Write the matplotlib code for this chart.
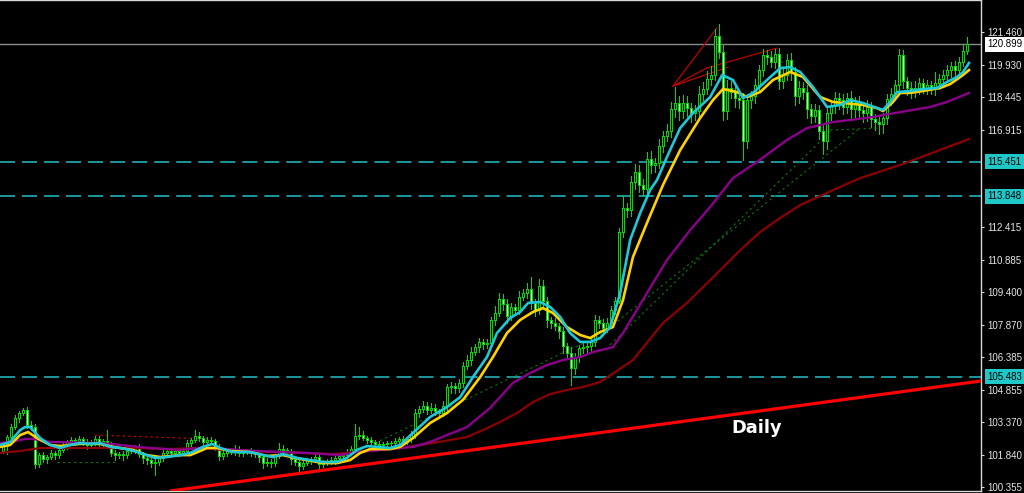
import numpy as np
import matplotlib
matplotlib.use("Agg")
import matplotlib.pyplot as plt

# ---------------- data ----------------
first_open = 102.05
close = [
    102.25, 102.70, 103.15, 103.55, 103.80, 103.95, 103.25, 103.15, 101.45, 101.85,
    101.65, 101.75, 101.95, 101.85, 102.10, 102.30, 102.45, 102.55, 102.50, 102.60,
    102.45, 102.30, 102.45, 102.60, 102.35, 102.50, 102.35, 101.95, 101.85, 101.90,
    101.85, 102.05, 102.10, 102.20, 101.90, 101.70, 101.60, 101.50, 101.55, 101.70,
    101.95, 102.05, 101.95, 102.05, 101.95, 102.05, 102.40, 102.55, 102.75, 102.65,
    102.45, 102.55, 102.50, 102.20, 101.80, 101.95, 102.05, 102.00, 102.15, 101.95,
    102.00, 102.05, 101.95, 101.90, 101.75, 101.50, 101.55, 101.50, 101.80, 102.15,
    102.10, 102.00, 101.65, 101.55, 101.35, 101.50, 101.60, 101.65, 101.75, 101.45,
    101.50, 101.55, 101.60, 101.70, 101.80, 101.85, 102.00, 102.15, 102.75, 102.80,
    102.65, 102.55, 102.45, 102.35, 102.30, 102.35, 102.40, 102.40, 102.50, 102.60,
    102.45, 102.60, 102.80, 103.80, 104.00, 104.15, 103.95, 104.05, 103.90, 103.80,
    104.15, 105.00, 105.05, 104.95, 105.20, 106.00, 106.25, 106.65, 106.85, 107.10,
    107.00, 107.05, 108.10, 108.45, 109.10, 108.85, 108.30, 108.70, 108.60, 109.20,
    109.35, 109.55, 108.90, 108.60, 109.70, 109.00, 108.10, 108.00, 107.85, 107.60,
    106.90, 106.60, 105.90, 106.40, 106.80, 106.85, 106.90, 107.10, 108.10, 108.00,
    107.75, 108.00, 108.60, 109.00, 112.20, 113.30, 113.20, 114.50, 115.00, 114.40,
    114.20, 115.60, 115.30, 115.40, 116.20, 116.65, 116.90, 117.90, 118.20, 117.80,
    118.20, 117.95, 117.70, 117.80, 118.60, 118.85, 119.30, 119.50, 121.30, 120.55,
    117.80, 118.90, 118.70, 118.40, 118.30, 116.40, 118.30, 118.50, 119.00, 119.70,
    120.40, 120.30, 120.10, 120.45, 119.20, 119.50, 120.20, 119.60, 118.50, 118.90,
    118.70, 117.90, 117.60, 117.85, 116.90, 116.40, 117.70, 118.05, 118.40, 118.30,
    118.00, 118.40, 117.90, 118.20, 117.85, 117.70, 118.00, 117.45, 117.30, 117.20,
    117.50, 118.35, 118.60, 119.00, 120.40, 119.20, 118.90, 118.70, 118.90, 119.10,
    118.90, 119.00, 118.85, 119.10, 119.30, 119.50, 119.70, 119.90, 119.70, 120.10,
    120.60, 120.90,
]
upper_wick = [
    0.15, 0.10, 0.12, 0.15, 0.10, 0.10, 0.15, 0.20, 0.15, 0.10,
    0.15, 0.10, 0.12, 0.10, 0.15, 0.10, 0.12, 0.15, 0.10, 0.12,
    0.10, 0.15, 0.10, 0.12, 0.15, 0.10, 0.50, 0.10, 0.12, 0.10,
    0.15, 0.10, 0.12, 0.10, 0.15, 0.10, 0.12, 0.10, 0.15, 0.10,
    0.12, 0.10, 0.15, 0.10, 0.12, 0.10, 0.15, 0.10, 0.25, 0.15,
    0.10, 0.15, 0.12, 0.10, 0.15, 0.10, 0.12, 0.10, 0.15, 0.10,
    0.12, 0.10, 0.15, 0.10, 0.12, 0.10, 0.15, 0.10, 0.12, 0.25,
    0.15, 0.10, 0.12, 0.10, 0.15, 0.10, 0.12, 0.10, 0.15, 0.10,
    0.12, 0.10, 0.15, 0.10, 0.12, 0.10, 0.15, 0.10, 0.55, 0.35,
    0.15, 0.10, 0.12, 0.10, 0.15, 0.10, 0.12, 0.10, 0.15, 0.10,
    0.12, 0.10, 0.15, 0.20, 0.15, 0.20, 0.15, 0.20, 0.15, 0.10,
    0.20, 0.15, 0.20, 0.15, 0.20, 0.15, 0.25, 0.20, 0.15, 0.20,
    0.15, 0.20, 0.15, 0.30, 0.25, 0.20, 0.25, 0.20, 0.15, 0.25,
    0.20, 0.30, 0.55, 0.20, 0.30, 0.25, 0.20, 0.15, 0.20, 0.15,
    0.20, 0.15, 0.25, 0.20, 0.15, 0.20, 0.15, 0.20, 0.25, 0.20,
    0.15, 0.20, 0.15, 0.20, 0.20, 0.60, 0.25, 0.30, 0.35, 0.30,
    0.25, 0.30, 0.35, 0.25, 0.30, 0.25, 0.30, 0.35, 0.73, 0.30,
    0.35, 0.30, 0.25, 0.30, 0.35, 0.30, 0.35, 0.40, 0.30, 0.55,
    0.30, 0.35, 0.30, 0.25, 0.30, 0.35, 0.30, 0.25, 0.30, 0.25,
    0.30, 0.25, 0.30, 0.25, 0.30, 0.35, 0.25, 0.30, 0.25, 0.30,
    0.25, 0.30, 0.25, 0.30, 0.25, 0.30, 0.35, 0.25, 0.30, 0.25,
    0.30, 0.25, 0.35, 0.25, 0.30, 0.25, 0.30, 0.25, 0.20, 0.25,
    0.20, 0.25, 0.30, 0.25, 0.30, 0.25, 0.20, 0.25, 0.30, 0.25,
    0.20, 0.25, 0.20, 0.50, 0.25, 0.20, 0.25, 0.20, 0.25, 0.20,
    0.25, 0.34,
]
lower_wick = [
    0.10, 0.35, 0.12, 0.10, 0.15, 0.10, 0.12, 0.15, 0.20, 0.15,
    0.12, 0.15, 0.10, 0.20, 0.12, 0.10, 0.15, 0.12, 0.10, 0.15,
    0.12, 0.15, 0.10, 0.12, 0.15, 0.10, 0.15, 0.12, 0.25, 0.15,
    0.25, 0.12, 0.10, 0.15, 0.12, 0.20, 0.15, 0.20, 0.55, 0.15,
    0.12, 0.15, 0.10, 0.12, 0.15, 0.10, 0.15, 0.12, 0.10, 0.15,
    0.12, 0.10, 0.15, 0.12, 0.20, 0.15, 0.12, 0.10, 0.15, 0.12,
    0.15, 0.10, 0.12, 0.15, 0.20, 0.25, 0.15, 0.20, 0.15, 0.10,
    0.12, 0.15, 0.20, 0.15, 0.25, 0.15, 0.12, 0.15, 0.10, 0.20,
    0.15, 0.12, 0.10, 0.15, 0.12, 0.10, 0.15, 0.12, 0.10, 0.15,
    0.12, 0.15, 0.10, 0.12, 0.15, 0.10, 0.12, 0.15, 0.10, 0.12,
    0.15, 0.10, 0.12, 0.15, 0.20, 0.15, 0.20, 0.15, 0.20, 0.25,
    0.15, 0.20, 0.25, 0.20, 0.15, 0.20, 0.15, 0.20, 0.15, 0.20,
    0.25, 0.20, 0.15, 0.20, 0.15, 0.25, 0.30, 0.20, 0.25, 0.20,
    0.15, 0.20, 0.25, 0.30, 0.20, 0.25, 0.30, 0.25, 0.20, 0.30,
    0.30, 0.25, 0.80, 0.30, 0.25, 0.20, 0.30, 0.25, 0.20, 0.25,
    0.30, 0.20, 0.25, 0.20, 0.10, 0.25, 0.30, 0.25, 0.30, 0.35,
    0.30, 0.25, 0.35, 0.30, 0.25, 0.30, 0.25, 0.30, 0.35, 0.40,
    0.30, 0.35, 0.40, 0.30, 0.25, 0.30, 0.25, 0.30, 0.25, 0.30,
    0.40, 0.35, 0.30, 0.40, 0.35, 0.85, 0.30, 0.35, 0.30, 0.25,
    0.25, 0.30, 0.25, 0.30, 0.35, 0.30, 0.25, 0.35, 0.40, 0.30,
    0.35, 0.40, 0.35, 0.30, 0.40, 0.60, 0.35, 0.30, 0.35, 0.40,
    0.35, 0.30, 0.40, 0.35, 0.30, 0.40, 0.35, 0.40, 0.35, 0.45,
    0.40, 0.30, 0.25, 0.30, 0.25, 0.30, 0.35, 0.30, 0.25, 0.30,
    0.25, 0.30, 0.25, 0.30, 0.25, 0.30, 0.25, 0.30, 0.25, 0.30,
    0.20, 0.15,
]

# moving averages (bar index, price)
fast_ma_idx = [-0.8, 1.7, 4.2, 5.4, 6.7, 9.2, 11.7, 14.2, 16.7, 19.2, 21.7, 24.2, 26.7, 29.2,
               31.7, 34.2, 37.9, 40.9, 44.2, 46.7, 49.9, 52.2, 54.2, 57.4, 61.7, 64.9, 67.4,
               69.9, 73.4, 76.7, 79.9, 83.4, 85.9, 88.4, 90.9, 93.4, 96.7, 99.2, 102.4, 106.7,
               110.9, 114.2, 117.4, 120.9, 123.4, 126.7, 129.2, 131.2, 134.2, 136.7, 139.2,
               141.7, 144.2, 146.7, 149.2, 151.7, 154.2, 156.7, 159.2, 161.7, 163.4, 165.9,
               169.2, 172.4, 176.7, 179.7, 182.4, 184.9, 187.4, 190.9, 194.2, 196.7, 199.2,
               202.4, 205.9, 209.2, 211.7, 214.9, 218.4, 219.9, 221.7, 223.4, 226.7, 229.9,
               233.4, 235.9, 238.4, 239.9, 241.4]
fast_ma_val = [102.32, 102.46, 103.01, 103.15, 103.15, 102.64, 102.32, 102.18, 102.32, 102.41,
               102.37, 102.41, 102.23, 102.18, 102.09, 101.95, 101.72, 101.76, 101.85, 101.95,
               102.23, 102.37, 102.18, 101.99, 101.99, 101.85, 101.76, 101.90, 101.72, 101.62,
               101.53, 101.53, 101.72, 102.09, 102.27, 102.23, 102.18, 102.32, 102.88, 103.62,
               104.08, 104.54, 105.47, 106.40, 107.51, 108.21, 108.49, 108.91, 108.95, 108.72,
               108.26, 107.51, 107.10, 107.10, 107.28, 107.79, 109.37, 111.83, 113.08, 114.15,
               114.61, 115.68, 117.02, 117.72, 118.46, 119.48, 119.25, 118.41, 118.65, 119.25,
               119.80, 119.85, 119.62, 118.92, 118.00, 118.09, 118.32, 118.18, 117.95, 117.86,
               118.23, 118.69, 118.74, 118.83, 118.88, 119.16, 119.39, 119.62, 120.04]

slow_ma_idx = [-0.8, 1.7, 4.2, 6.2, 8.4, 11.7, 14.2, 19.2, 24.2, 27.4, 32.4, 35.9, 39.2, 44.2,
               46.7, 49.2, 50.9, 53.4, 56.7, 61.7, 65.9, 69.9, 74.2, 79.9, 83.4, 86.7, 89.2,
               91.7, 96.7, 99.2, 102.4, 106.7, 110.9, 114.9, 119.2, 122.4, 125.9, 129.2, 132.4,
               134.9, 137.4, 140.9, 144.2, 146.7, 149.2, 152.4, 154.9, 157.4, 160.9, 164.9,
               169.2, 174.2, 177.4, 179.9, 183.4, 185.9, 189.2, 192.4, 196.7, 199.9, 204.2,
               207.4, 214.9, 218.4, 219.9, 222.4, 224.2, 226.7, 229.9, 234.2, 236.7, 239.9, 241.4]
slow_ma_val = [102.23, 102.32, 102.78, 102.92, 102.64, 102.32, 102.27, 102.37, 102.37, 102.23,
               102.09, 101.85, 101.76, 101.85, 101.85, 102.04, 102.18, 102.18, 102.04, 101.99,
               101.81, 101.85, 101.67, 101.48, 101.48, 101.62, 101.95, 102.13, 102.13, 102.23,
               102.64, 103.34, 103.80, 104.41, 105.47, 106.40, 107.51, 108.12, 108.49, 108.67,
               108.44, 107.79, 107.42, 107.28, 107.56, 107.79, 109.04, 111.04, 112.62, 114.38,
               116.00, 117.49, 118.32, 118.83, 118.69, 118.46, 118.69, 119.25, 119.62, 119.39,
               118.46, 118.23, 118.09, 117.95, 117.81, 118.23, 118.65, 118.65, 118.74, 118.88,
               119.06, 119.48, 119.71]

mid_ma_idx = [-0.8, 3.0, 5.4, 7.4, 11.7, 24.2, 36.7, 44.2, 49.2, 51.7, 63.4, 75.9, 84.2, 88.4,
              96.7, 102.4, 106.7, 110.9, 115.9, 121.7, 127.4, 131.7, 135.9, 139.9, 144.2, 147.4,
              152.4, 154.9, 160.9, 165.9, 171.7, 176.7, 182.4, 188.4, 195.9, 200.9, 207.4,
              215.9, 224.2, 231.7, 235.9, 241.4]
mid_ma_val = [102.41, 102.50, 102.60, 102.60, 102.46, 102.41, 102.18, 102.09, 102.18, 102.18,
              102.04, 101.95, 101.85, 101.99, 102.13, 102.23, 102.46, 102.78, 103.15, 104.04,
              105.20, 105.66, 106.03, 106.26, 106.40, 106.63, 106.86, 107.51, 109.37, 110.90,
              112.29, 113.36, 114.70, 115.45, 116.47, 117.02, 117.30, 117.49, 117.76, 118.00,
              118.23, 118.65]

long_ma_idx = [-0.8, 4.2, 9.2, 15.9, 24.2, 32.4, 40.9, 49.2, 54.9, 67.4, 74.2, 82.4, 91.7,
               99.2, 107.4, 115.9, 119.9, 124.2, 128.4, 132.4, 136.7, 140.9, 144.9, 149.2,
               157.4, 164.9, 170.9, 176.7, 184.2, 189.2, 194.2, 199.2, 204.2, 209.2, 214.2,
               224.2, 241.4]
long_ma_val = [101.95, 102.04, 102.18, 102.18, 102.18, 102.18, 102.13, 102.18, 102.09, 101.99,
               101.95, 101.90, 102.04, 102.18, 102.41, 102.69, 103.01, 103.39, 103.80, 104.31,
               104.68, 104.87, 105.01, 105.24, 106.26, 107.98, 108.91, 109.97, 111.36, 112.20,
               112.85, 113.45, 113.87, 114.29, 114.70, 115.31, 116.51]

# horizontal levels
support_levels = [115.451, 113.848, 105.483]
current_price = 120.899

# trend line (bar index, price)
trend_idx = [41.7, 244.4]
trend_val = [100.185, 105.29]

# drawn objects (bar index, price)
red_dotted = ([22.9, 51.7], [102.78, 102.60])
green_dotted = [
    ([13.4, 27.9], [101.53, 101.53]),
    ([86.7, 149.2], [101.85, 107.42]),
    ([149.2, 214.2], [107.42, 117.02]),
    ([151.7, 206.7], [106.96, 116.84]),
    ([206.7, 219.2], [116.93, 117.02]),
]
fan_lines = [
    ([167.4, 178.4], [118.97, 121.66]),
    ([167.4, 181.2], [118.97, 119.85]),
    ([167.4, 175.9], [118.97, 119.81]),
    ([175.9, 193.4], [119.81, 120.73]),
]

tick_values = [121.460, 119.930, 118.445, 116.915, 112.415, 110.885, 109.400,
               107.870, 106.385, 104.855, 103.370, 101.840, 100.355]

# ---------------- figure ----------------
W, H = 1024, 493
fig = plt.figure(figsize=(W / 100, H / 100), dpi=100, facecolor="black")
ax = fig.add_axes([0, 2 / H, 981 / W, 491 / H])
ax.set_facecolor("black")
ax.set_xlim(-0.83, 244.4)
ax.set_ylim(100.185, 122.96)

# horizontal levels
for lv in support_levels:
    ax.axhline(lv, color="#1fa3aa", lw=1.3, dashes=(8.3, 3.9), zorder=1)
ax.axhline(current_price, color="#8a8a8a", lw=1.0, zorder=1)

# drawn objects
ax.plot(*red_dotted, color="#e00000", lw=0.8, dashes=(2, 3), zorder=2)
for xs, ys in green_dotted:
    ax.plot(xs, ys, color="#0a7a0a", lw=0.8, dashes=(2, 3), zorder=2)
for xs, ys in fan_lines:
    ax.plot(xs, ys, color="#d00000", lw=0.8, zorder=2)

# candles
c = np.array(close)
o = np.r_[first_open, c[:-1]]
idx = np.arange(len(c))
hi = np.maximum(o, c) + np.array(upper_wick)
lo = np.minimum(o, c) - np.array(lower_wick)
up = c >= o
green = "#00d800"
ax.vlines(idx, lo, hi, color=green, lw=0.72, zorder=3, antialiased=False)
ax.bar(idx[up], (c - o)[up], bottom=o[up], width=0.45, color="black",
       edgecolor=green, linewidth=0.72, zorder=4, antialiased=False)
ax.bar(idx[~up], (o - c)[~up], bottom=c[~up], width=0.45, color="#c4ffc4",
       edgecolor=green, linewidth=0.72, zorder=4, antialiased=False)

# moving averages
ax.plot(long_ma_idx, long_ma_val, color="#8b0000", lw=1.6, zorder=5)
ax.plot(mid_ma_idx, mid_ma_val, color="#8b008b", lw=1.7, zorder=5)
ax.plot(slow_ma_idx, slow_ma_val, color="#ffd200", lw=1.9, zorder=6)
ax.plot(fast_ma_idx, fast_ma_val, color="#1ec8d8", lw=1.9, zorder=7)

# trend line
ax.plot(trend_idx, trend_val, color="#ff0000", lw=2.3, zorder=8, solid_capstyle="butt")

# text
ax.text(757 / 981, 1 - 433 / 491, "Daily", transform=ax.transAxes, ha="center",
        va="baseline", color="white", fontsize=12.8, fontweight="bold", zorder=9)

# axes styling
ax.spines["left"].set_visible(False)
for s in ["right", "top", "bottom"]:
    ax.spines[s].set_color("#d8d8d8")
    ax.spines[s].set_linewidth(1.0)
ax.set_xticks([])
ax.yaxis.tick_right()
ax.set_yticks(tick_values)
ax.set_yticklabels([f"{v:.3f}" for v in tick_values])
ax.tick_params(axis="y", colors="#d8d8d8", length=2.5, width=0.8, pad=2.2,
               labelsize=7.0, labelcolor="#e6e6e6")
for lab in ax.get_yticklabels():
    lab.set_fontfamily("Liberation Sans")

# highlighted price labels
def price_tag(val, fc):
    ax.annotate(f"{val:.3f}", xy=(1, val), xycoords=ax.get_yaxis_transform(),
                xytext=(4.3, 0), textcoords="offset points", ha="left", va="center",
                fontsize=7.0, family="Liberation Sans", color="black",
                bbox=dict(boxstyle="square,pad=0.25", fc=fc, ec="none"),
                annotation_clip=False, zorder=10)

price_tag(current_price, "white")
for lv in support_levels:
    price_tag(lv, "#1ec8c8")

fig.savefig("out.png", dpi=100, facecolor="black")
